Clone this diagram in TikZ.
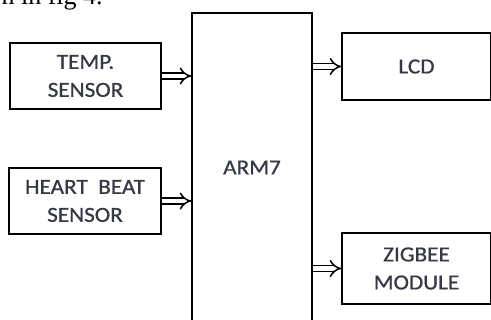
\documentclass[tikz,border=0pt]{standalone}
\usepackage{fontspec}
\setmainfont[FakeBold=0.8,FakeStretch=1.08]{Carlito}
\newfontfamily\capfont{Liberation Serif}
\usetikzlibrary{arrows.meta}
\definecolor{txt}{HTML}{353845}
\begin{document}
\begin{tikzpicture}[x=1pt,y=1pt,
  blk/.style={draw=black, line width=1.6pt, rectangle, inner sep=0pt, align=center,
    font=\fontsize{21.5}{28}\selectfont, text=txt},
  dbl/.style={double=white, draw=black, line width=1.5pt, double distance=4.4pt, -{Implies[scale=1.6]}}]
\useasboundingbox (0,0) rectangle (491,-320);
\clip (0,0) rectangle (491,-320);
\node[anchor=base west, font=\capfont\fontsize{26}{30}\selectfont] (cap) at (-2,-4.5) {n in fig 4.};
\node[blk, minimum width=151pt, minimum height=66pt] (temp) at (85.5,-76) {TEMP.\\SENSOR};
\node[blk, minimum width=152pt, minimum height=66pt] (heart) at (85,-201) {HEART\ \ BEAT\\SENSOR};
\node[blk, minimum width=120pt, minimum height=309pt] (arm) at (252,-167.5) {ARM7};
\node[blk, minimum width=149pt, minimum height=67pt] (lcd) at (416.5,-66.5) {LCD};
\node[blk, minimum width=149pt, minimum height=71pt] (zig) at (416.5,-268.5) {ZIGBEE\\MODULE};
\draw[dbl] (temp.east) -- (temp.east -| arm.west);
\draw[dbl] (heart.east) -- (heart.east -| arm.west);
\draw[dbl] (arm.east |- lcd.west) -- (lcd.west);
\draw[dbl] (arm.east |- zig.west) -- (zig.west);
\end{tikzpicture}
\end{document}
